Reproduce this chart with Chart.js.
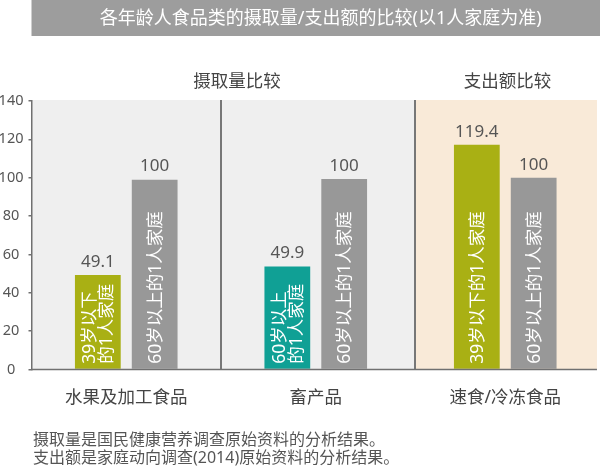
<!DOCTYPE html>
<html><head><meta charset="utf-8">
<script src="https://cdn.jsdelivr.net/npm/chart.js@4"></script>
<style>html,body{margin:0;padding:0;background:#fff}#wrap{width:600px;height:470px;position:relative}</style>
</head><body><div id="wrap"><canvas id="c" width="600" height="470"></canvas></div>
<script>
// ---- data ----
const chartTitle = '各年龄人食品类的摄取量/支出额的比较(以1人家庭为准)';
const categories = ['水果及加工食品', '畜产品', '速食/冷冻食品'];
const sectionTitles = ['摄取量比较', '支出额比较'];
const firstBarValues = [49.3, 53.7, 117.2];      // bar heights as drawn
const firstBarLabels = ['49.1', '49.9', '119.4'];  // printed values
const firstBarNames = [['39岁以下', '的1人家庭'], ['60岁以上', '的1人家庭'], ['39岁以下的1人家庭']];
const secondBarValues = [99.0, 99.3, 100.0];
const secondBarLabels = ['100', '100', '100'];
const secondBarNames = [['60岁以上的1人家庭'], ['60岁以上的1人家庭'], ['60岁以上的1人家庭']];
const yTicks = [0, 20, 40, 60, 80, 100, 120, 140];
const footnotes = ['摄取量是国民健康营养调查原始资料的分析结果。', '支出额是家庭动向调查(2014)原始资料的分析结果。'];

// ---- styles ----
const FONT = "'Noto Sans', 'Noto Sans CJK SC', sans-serif";
const style = {
  firstColors: ['#a9b014', '#10a095', '#a9b014'],
  secondColor: '#989898',
  panelBounds: [-0.5, 0.5, 1.525, 2.484],
  panelColors: ['#efefef', '#efefef', '#f9ead8'],
  sectionAnchors: [0.584, 2.012],
  dividerColor: '#777777',
  axisColor: '#707070',
  textColor: '#555555',
  darkText: '#444444'
};

Chart.defaults.font.family = FONT;

const decor = {
  id: 'decor',
  beforeDraw(chart) {
    const ctx = chart.ctx, a = chart.chartArea, x = chart.scales.x;
    ctx.save();
    // title bar
    ctx.fillStyle = '#9d9d9d';
    ctx.fillRect(a.left, 0, chart.width - a.left, 36);
    ctx.fillStyle = '#ffffff';
    ctx.font = '18px ' + FONT;
    ctx.textAlign = 'center';
    ctx.textBaseline = 'middle';
    ctx.fillText(chartTitle, (a.left + a.right) / 2 + 5, 19);
    // panels
    for (let i = 0; i < style.panelColors.length; i++) {
      const l = i === 0 ? a.left : x.getPixelForValue(style.panelBounds[i]);
      const r = x.getPixelForValue(style.panelBounds[i + 1]);
      ctx.fillStyle = style.panelColors[i];
      ctx.fillRect(l, a.top - 1, r - l, a.bottom - a.top + 1);
    }
    // section headers
    ctx.fillStyle = style.darkText;
    ctx.font = '17.5px ' + FONT;
    sectionTitles.forEach((t, i) => {
      ctx.fillText(t, x.getPixelForValue(style.sectionAnchors[i]), 82);
    });
    // footnotes
    ctx.fillStyle = style.textColor;
    ctx.font = '16px ' + FONT;
    ctx.textAlign = 'left';
    footnotes.forEach((t, i) => ctx.fillText(t, 33, 440 + i * 18));
    ctx.restore();
  },
  afterDatasetsDraw(chart) {
    const ctx = chart.ctx, a = chart.chartArea, x = chart.scales.x;
    ctx.save();
    // dividers
    ctx.strokeStyle = style.dividerColor;
    ctx.lineWidth = 2;
    for (let i = 1; i < style.panelBounds.length - 1; i++) {
      const px = Math.round(x.getPixelForValue(style.panelBounds[i]));
      ctx.beginPath(); ctx.moveTo(px, a.top - 1); ctx.lineTo(px, a.bottom); ctx.stroke();
    }
    // baseline
    ctx.strokeStyle = style.axisColor;
    ctx.lineWidth = 1.5;
    ctx.beginPath();
    ctx.moveTo(a.left, a.bottom);
    ctx.lineTo(x.getPixelForValue(style.panelBounds[style.panelBounds.length - 1]), a.bottom);
    ctx.stroke();
    // labels
    const valueLabels = [firstBarLabels, secondBarLabels];
    const names = [firstBarNames, secondBarNames];
    chart.data.datasets.forEach((ds, di) => {
      const meta = chart.getDatasetMeta(di);
      meta.data.forEach((bar, i) => {
        ctx.fillStyle = style.textColor;
        ctx.font = '17px ' + FONT;
        ctx.textAlign = 'center';
        ctx.textBaseline = 'middle';
        ctx.fillText(valueLabels[di][i], bar.x, bar.y - 13);
        const lines = names[di][i];
        ctx.save();
        ctx.translate(bar.x + 1, bar.base - 5);
        ctx.rotate(-Math.PI / 2);
        ctx.fillStyle = '#ffffff';
        ctx.font = '17.5px ' + FONT;
        ctx.textAlign = 'left';
        lines.forEach((ln, j) => ctx.fillText(ln, 0, (j - (lines.length - 1) / 2) * 17));
        ctx.restore();
      });
    });
    ctx.restore();
  }
};

new Chart(document.getElementById('c'), {
  type: 'bar',
  data: {
    labels: categories,
    datasets: [
      { data: firstBarValues, backgroundColor: style.firstColors, categoryPercentage: 0.6, barPercentage: 0.805 },
      { data: secondBarValues, backgroundColor: style.secondColor, categoryPercentage: 0.6, barPercentage: 0.805 }
    ]
  },
  options: {
    responsive: false,
    animation: false,
    devicePixelRatio: 1,
    layout: { padding: { top: 101, right: 0, bottom: 61.5, left: 0 } },
    plugins: { legend: { display: false }, tooltip: { enabled: false }, title: { display: false } },
    scales: {
      x: {
        offset: true,
        afterFit(s) { s.height = 39; },
        grid: { display: false, drawTicks: false },
        border: { display: false },
        ticks: { color: style.darkText, font: { size: 17.5 }, padding: 18, maxRotation: 0, autoSkip: false }
      },
      y: {
        min: 0, max: 140,
        afterFit(s) { s.width = 31.5; },
        afterBuildTicks(s) { s.ticks = yTicks.map(v => ({ value: v })); },
        grid: { display: true, drawOnChartArea: false, drawTicks: true, tickLength: 3, color: style.axisColor, lineWidth: 1.5 },
        border: { display: true, color: style.axisColor, width: 1.5 },
        ticks: { color: style.textColor, font: { size: 14.5 }, padding: 5, crossAlign: 'center' }
      }
    }
  },
  plugins: [decor]
});
</script></body></html>
